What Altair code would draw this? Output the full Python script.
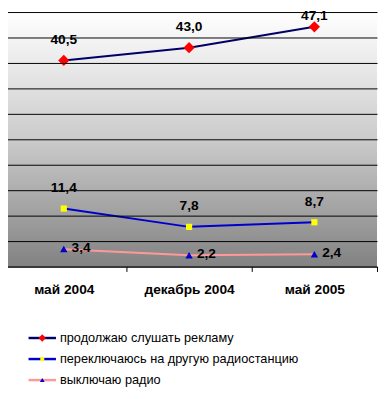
import altair as alt
import pandas as pd

months = ["май 2004", "декабрь 2004", "май 2005"]
series = [
    "продолжаю слушать рекламу",
    "переключаюсь на другую радиостанцию",
    "выключаю радио",
]
s1 = [40.5, 43.0, 47.1]
s2 = [11.4, 7.8, 8.7]
s3 = [3.4, 2.2, 2.4]

line_colors = ["#000066", "#0000CC", "#FF9999"]
marker_colors = ["#FF0000", "#FFFF00", "#0000CC"]
marker_paths = [
    "M0,-1L1,0L0,1L-1,0Z",
    "M-0.55,-0.55L0.55,-0.55L0.55,0.55L-0.55,0.55Z",
    "M0,-0.6L0.65,0.55L-0.65,0.55Z",
]

rows = []
for name, vals in zip(series, [s1, s2, s3]):
    for m, v in zip(months, vals):
        rows.append({"month": m, "series": name, "value": v,
                     "label": f"{v:.1f}".replace(".", ",")})
df = pd.DataFrame(rows)
leg_df = pd.DataFrame({"series": series})

FONT = "Liberation Sans"
W, H = 377, 260

stroke_scale = alt.Scale(domain=series, range=line_colors)
fill_scale = alt.Scale(domain=series, range=marker_colors)
shape_scale = alt.Scale(domain=series, range=marker_paths)

x_axis = alt.Axis(title=None, tickBand="extent", labelAngle=0, labelFont=FONT,
                  labelFontSize=14, labelFontWeight="bold", labelColor="black",
                  labelPadding=12, tickSize=5, tickColor="black", domainColor="black",
                  grid=False, zindex=1)
x_scale = alt.Scale(type="band", range=[-7, W], paddingInner=0, paddingOuter=0)
y_axis = alt.Axis(title=None, labels=False, ticks=False, domain=False, grid=True,
                  gridColor="black", gridWidth=1, gridOpacity=1,
                  values=list(range(0, 51, 5)), zindex=1)
y_scale = alt.Scale(domain=[0, 50], nice=False, zero=True)

x_main = alt.X("month:N", sort=months, scale=x_scale, axis=x_axis)
y_main = alt.Y("value:Q", scale=y_scale, axis=y_axis)

gradient = alt.LinearGradient(
    gradient="linear", x1=0, x2=0, y1=0, y2=1,
    stops=[alt.GradientStop(color="#ffffff", offset=0),
           alt.GradientStop(color="#cbcbcb", offset=0.5),
           alt.GradientStop(color="#828282", offset=1)],
)

bg = alt.Chart(pd.DataFrame({"a": [0]})).mark_rect(color=gradient).encode(
    x=alt.value(0), x2=alt.value("width"), y=alt.value(0), y2=alt.value("height")
)

lines = alt.Chart(df).mark_line(strokeWidth=2).encode(
    x=x_main, y=y_main,
    stroke=alt.Stroke("series:N", scale=stroke_scale, legend=None),
)

points = alt.Chart(df).mark_point(filled=True, size=132, opacity=1, strokeWidth=0).encode(
    x=x_main, y=y_main,
    fill=alt.Fill("series:N", scale=fill_scale, legend=None),
    shape=alt.Shape("series:N", scale=shape_scale, legend=None),
)

text_style = dict(font=FONT, fontSize=14, fontWeight="bold", color="black", baseline="middle")

is_top = (alt.datum.series == series[0]) & (alt.datum.month == months[2])
labels_above = alt.Chart(df).mark_text(dy=-21, align="center", **text_style).encode(
    x=x_main, y=y_main, text="label:N"
).transform_filter((alt.datum.series != series[2]) & ~is_top)

labels_top = alt.Chart(df).mark_text(dy=-11, align="center", **text_style).encode(
    x=x_main, y=y_main, text="label:N"
).transform_filter(is_top)

labels_right = alt.Chart(df).mark_text(dx=8, dy=-1, align="left", **text_style).encode(
    x=x_main, y=y_main, text="label:N"
).transform_filter(alt.datum.series == series[2])

main = alt.layer(bg, lines, points, labels_above, labels_top, labels_right)

# legend drawn below the plot, rows placed by a point scale
y_leg = alt.Y("series:N", sort=series, axis=None,
              scale=alt.Scale(type="point", domain=series, range=[333, 376], padding=0))

leg_lines = alt.Chart(leg_df).mark_rule(strokeWidth=2.5).encode(
    x=alt.value(21), x2=alt.value(49), y=y_leg,
    stroke=alt.Stroke("series:N", scale=stroke_scale, legend=None),
)
leg_points = alt.Chart(leg_df).mark_point(filled=True, size=56, opacity=1, strokeWidth=0).encode(
    x=alt.value(35), y=y_leg,
    fill=alt.Fill("series:N", scale=fill_scale, legend=None),
    shape=alt.Shape("series:N", scale=shape_scale, legend=None),
)
leg_text = alt.Chart(leg_df).mark_text(align="left", baseline="middle", font=FONT,
                                       fontSize=13, color="black").encode(
    x=alt.value(53), y=y_leg, text="series:N"
)
legend = alt.layer(leg_lines, leg_points, leg_text)

chart = alt.layer(main, legend).resolve_scale(y="independent").properties(
    width=W, height=H,
    autosize=alt.AutoSizeParams(type="none"),
    padding={"left": 0, "top": 0, "right": 1, "bottom": 123},
    background="white",
).configure_view(stroke=None)

chart.save("out.html", embed_options={"renderer": "svg", "actions": False})
